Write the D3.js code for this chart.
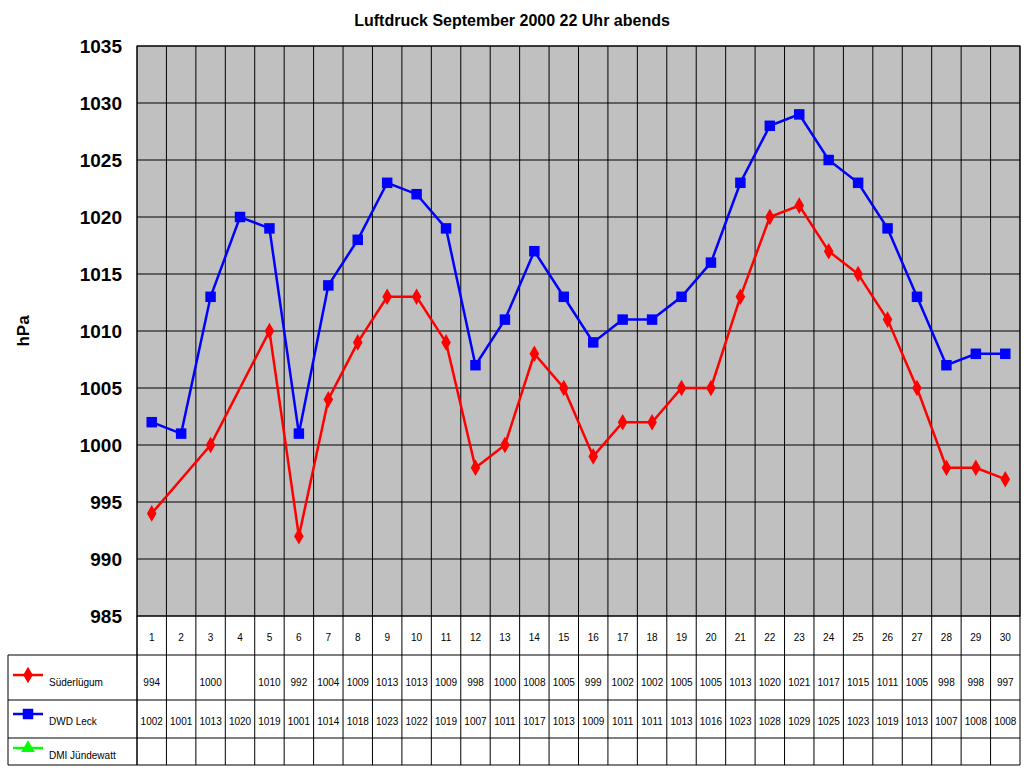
<!DOCTYPE html>
<html><head><meta charset="utf-8">
<script src="https://cdn.jsdelivr.net/npm/d3@7"></script>
<style>body{margin:0;background:#fff}</style>
</head><body>
<svg width="1024" height="768"></svg>
<script>
const days = d3.range(1, 31);
const suederluegum = [994,null,1000,null,1010,992,1004,1009,1013,1013,1009,998,1000,1008,1005,999,1002,1002,1005,1005,1013,1020,1021,1017,1015,1011,1005,998,998,997];
const dwdLeck = [1002,1001,1013,1020,1019,1001,1014,1018,1023,1022,1019,1007,1011,1017,1013,1009,1011,1011,1013,1016,1023,1028,1029,1025,1023,1019,1013,1007,1008,1008];
const dmi = days.map(() => null);
const yTicks = d3.range(985, 1036, 5);
const series = [
  {name: 'Süderlügum', values: suederluegum, color: '#ff0000', shape: d3.symbolDiamond},
  {name: 'DWD Leck', values: dwdLeck, color: '#0000ff', shape: d3.symbolSquare},
  {name: 'DMI Jündewatt', values: dmi, color: '#00ff00', shape: d3.symbolTriangle}
];

const svg = d3.select('svg');
const pLeft = 137, pRight = 1020, pTop = 46, pBottom = 616;
const x = d3.scaleBand().domain(days).range([pLeft, pRight]);
const y = d3.scaleLinear().domain([985, 1035]).range([pBottom, pTop]);

svg.append('text').attr('x', 512).attr('y', 26).attr('text-anchor', 'middle')
  .attr('font-family', 'Arial, Liberation Sans').attr('font-weight', 'bold').attr('font-size', 16)
  .text('Luftdruck September 2000 22 Uhr abends');

// plot background
svg.append('rect').attr('x', pLeft).attr('y', pTop).attr('width', pRight - pLeft).attr('height', pBottom - pTop)
  .attr('fill', '#c0c0c0').attr('stroke', '#000');
// grid
svg.append('g').selectAll('line').data(yTicks).join('line')
  .attr('x1', pLeft).attr('x2', pRight).attr('y1', d => y(d)).attr('y2', d => y(d)).attr('stroke', '#000');
svg.append('g').selectAll('line').data(days).join('line')
  .attr('x1', d => x(d)).attr('x2', d => x(d)).attr('y1', pTop).attr('y2', 765).attr('stroke', '#000');
svg.append('line').attr('x1', pRight).attr('x2', pRight).attr('y1', pTop).attr('y2', 765).attr('stroke', '#000');

// y labels
svg.append('g').selectAll('text').data(yTicks).join('text')
  .attr('x', 122).attr('y', d => y(d) + 7).attr('text-anchor', 'end')
  .attr('font-family', 'Arial, Liberation Sans').attr('font-weight', 'bold').attr('font-size', 19)
  .text(d => d);
svg.append('text').attr('transform', 'translate(29,331) rotate(-90)').attr('text-anchor', 'middle')
  .attr('font-family', 'Arial, Liberation Sans').attr('font-weight', 'bold').attr('font-size', 17).text('hPa');

// table
const rows = [616, 655, 700, 738, 765];
svg.append('g').selectAll('line').data(rows.slice(1)).join('line')
  .attr('x1', 8).attr('x2', pRight).attr('y1', d => d).attr('y2', d => d).attr('stroke', '#000');
svg.append('line').attr('x1', 8).attr('x2', 8).attr('y1', 655).attr('y2', 765).attr('stroke', '#000');
svg.append('line').attr('x1', pLeft).attr('x2', pLeft).attr('y1', 616).attr('y2', 765).attr('stroke', '#000');
svg.append('g').selectAll('text').data(days).join('text')
  .attr('x', d => x(d) + x.bandwidth() / 2).attr('y', 641).attr('text-anchor', 'middle')
  .attr('font-family', 'Arial, Liberation Sans').attr('font-size', 10).text(d => d);

const line = d3.line().x(d => x(d.day) + x.bandwidth() / 2).y(d => y(d.v));
series.forEach((s, i) => {
  const pts = s.values.map((v, j) => ({day: days[j], v})).filter(d => d.v != null);
  svg.append('path').datum(pts).attr('d', line).attr('fill', 'none').attr('stroke', s.color).attr('stroke-width', 2.5);
  const sym = d3.symbol().type(s.shape).size(s.shape === d3.symbolSquare ? 110 : 80);
  svg.append('g').selectAll('path').data(pts).join('path')
    .attr('transform', d => `translate(${x(d.day) + x.bandwidth() / 2},${y(d.v)})`)
    .attr('d', sym).attr('fill', s.color);
  // table row
  const rowY = [683, 722, 756][i];
  svg.append('line').attr('x1', 13).attr('x2', 43).attr('y1', rowY - 8).attr('y2', rowY - 8)
    .attr('stroke', s.color).attr('stroke-width', 2.5);
  svg.append('path').attr('transform', `translate(28,${rowY - 8})`).attr('d', sym).attr('fill', s.color);
  svg.append('text').attr('x', 49).attr('y', rowY + 3).attr('font-family', 'Arial, Liberation Sans')
    .attr('font-size', 10).text(s.name);
  svg.append('g').selectAll('text').data(pts).join('text')
    .attr('x', d => x(d.day) + x.bandwidth() / 2).attr('y', rowY + 3).attr('text-anchor', 'middle')
    .attr('font-family', 'Arial, Liberation Sans').attr('font-size', 10).text(d => d.v);
});
</script>
</body></html>
